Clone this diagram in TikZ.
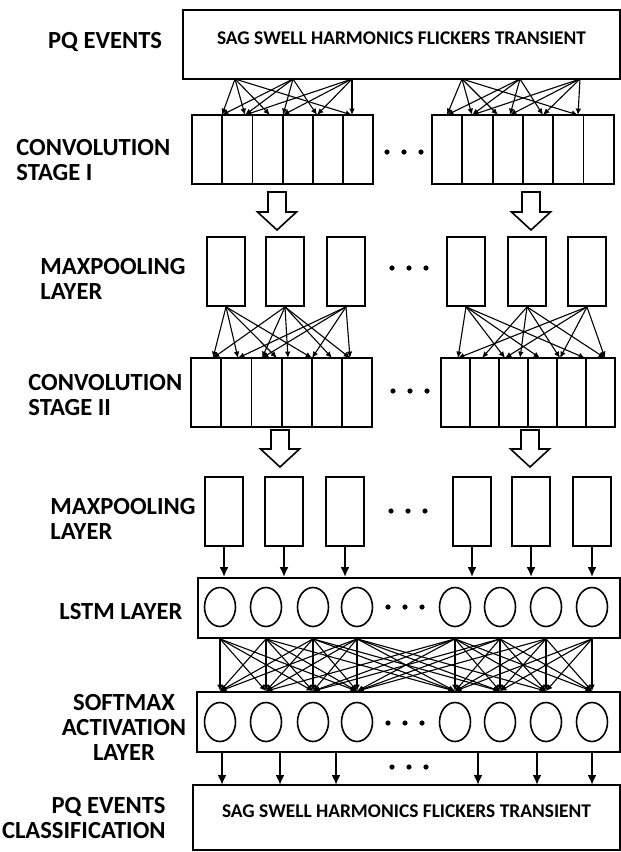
\documentclass[tikz,border=0pt]{standalone}
\usepackage{fontspec}
\setmainfont{Carlito}
\usetikzlibrary{arrows.meta,fit,shapes.geometric}

% hollow block arrow: x, top y, tip y
\newcommand\hollowarrow[3]{%
  \draw[hollow] (#1-9,#2) -- (#1+9,#2) -- (#1+9,#3-18) -- (#1+19.5,#3-18)
    -- (#1,#3) -- (#1-19.5,#3-18) -- (#1-9,#3-18) -- cycle;}

\begin{document}
\begin{tikzpicture}[x=0.5pt,y=-0.5pt,
    lab/.style={font=\bfseries\fontsize{12.3}{12.5}\selectfont, inner sep=0pt},
    boxtext/.style={font=\bfseries\fontsize{9.7}{11}\selectfont},
    frame/.style={draw, line width=0.9pt, inner sep=0pt},
    cell/.style={draw, line width=0.9pt, inner sep=0pt},
    unit/.style={ellipse, draw, line width=0.8pt, minimum width=15.5pt, minimum height=19.5pt, inner sep=0pt},
    dot/.style={circle, fill, inner sep=0pt, minimum size=2.6pt},
    fan/.style={-{Latex[length=3.2pt,width=2.8pt]}, line width=0.55pt},
    down/.style={-{Latex[length=5pt,width=4.5pt]}, line width=1pt},
    hollow/.style={draw, line width=0.8pt, fill=white}
  ]
    \useasboundingbox (0,0) rectangle (621,852);

    % layer names
    \node[lab] (pqinlab) at (105,42) {PQ EVENTS};
    \node[lab, anchor=west, align=left] (conv1lab) at (16,160) {CONVOLUTION\\STAGE I};
    \node[lab, anchor=west, align=left] (pool1lab) at (40,279) {MAXPOOLING\\LAYER};
    \node[lab, anchor=west, align=left] (conv2lab) at (28,395) {CONVOLUTION\\STAGE II};
    \node[lab, anchor=west, align=left] (pool2lab) at (50,519) {MAXPOOLING\\LAYER};
    \node[lab, anchor=west] (lstmlab) at (59,612) {LSTM LAYER};
    \node[lab, align=center] (softlab) at (124,727) {SOFTMAX\\ACTIVATION\\LAYER};
    \node[lab, anchor=east, align=right] (pqoutlab) at (166,818) {PQ EVENTS\\CLASSIFICATION};

    % input and output boxes
    \node[frame, boxtext, fit={(183,10) (620,79)}] (events) {SAG SWELL HARMONICS FLICKERS TRANSIENT};
    \node[frame, boxtext, fit={(193,785) (620,850)}] (result) {SAG SWELL HARMONICS FLICKERS TRANSIENT};

    % convolution cells
    \foreach \n/\g/\xa/\ya/\w in {1/a/192/115/30.2, 1/b/432/115/30.3, 2/a/191/358/30.2, 2/b/441/358/29}
      \foreach \i in {1,...,6}
        \node[cell, fit={(\xa+\w*\i-\w,\ya) (\xa+\w*\i,\ya+69)}] (c\n\g\i) {};

    % maxpooling boxes
    \foreach \nm/\xa/\ya in {m1a1/207/237, m1a2/266/237, m1a3/327/237,
                              m1b1/447/237, m1b2/508/237, m1b3/568/237,
                              m2a1/205/477, m2a2/265/477, m2a3/326/477,
                              m2b1/453/477, m2b2/512/477, m2b3/573/477}
      \node[cell, fit={(\xa,\ya) (\xa+38,\ya+69)}] (\nm) {};

    % lstm and softmax rows
    \node[frame, fit={(198,578) (620,638)}] (lstm) {};
    \node[frame, fit={(197,692) (620,752)}] (soft) {};
    \foreach \i/\x in {1/220, 2/266, 3/313, 4/357, 5/455, 6/500, 7/546, 8/592} {
      \node[unit] (l\i) at (\x,607) {};
      \node[unit] (s\i) at (\x,722) {};
    }

    % dots
    \foreach \nm/\x/\y in {da/404/152, db/409/268, dc/410/391, dd/408/511, de/405/607, df/405/723, dg/409/767}
      \foreach \k in {1,2,3}
        \node[dot] (\nm\k) at (\x+17*\k-34,\y) {};

    % block arrows
    \hollowarrow{277}{192}{230}
    \hollowarrow{531}{192}{230}
    \hollowarrow{280}{430}{467}
    \hollowarrow{530}{430}{467}

    % fan-out points
    \foreach \nm/\x in {pa1/235, pa2/293, pa3/352, pb1/462, pb2/520, pb3/580}
      \coordinate (\nm) at (\x,79);
    \foreach \nm/\x in {qa1/222, qa2/245, qa3/270, qa4/283, qa5/317, qa6/352,
                        qb1/447, qb2/472, qb3/498, qb4/510, qb5/543, qb6/578}
      \coordinate (\nm) at (\x,115);
    \foreach \nm/\x in {ta1/213, ta2/238, ta3/262, ta4/277, ta5/288, ta6/312, ta7/332, ta8/350,
                        tb1/458, tb2/482, tb3/505, tb4/520, tb5/540, tb6/560, tb7/585, tb8/605}
      \coordinate (\nm) at (\x,358);

    % input -> convolution I
    \foreach \g in {a,b}
      \foreach \s/\t in {1/1, 1/2, 1/3, 1/6, 2/1, 2/2, 2/4, 2/5, 3/2, 3/4, 3/5, 3/6}
        \draw[fan] (p\g\s) -- (q\g\t);

    % maxpooling I -> convolution II
    \foreach \s/\t in {1/1, 1/2, 1/4, 1/6, 2/1, 2/3, 2/5, 2/7, 2/8, 3/2, 3/3, 3/6, 3/8}
      \draw[fan] (m1a\s.south) -- (ta\t);
    \foreach \s/\t in {1/1, 1/3, 1/5, 1/7, 2/2, 2/4, 2/6, 2/8, 3/1, 3/3, 3/6, 3/8}
      \draw[fan] (m1b\s.south) -- (tb\t);

    % maxpooling II -> lstm
    \foreach \g in {a,b}
      \foreach \i in {1,2,3}
        \draw[down] (m2\g\i.south) -- (m2\g\i.south |- lstm.north);

    % lstm -> softmax
    \foreach \i in {1,...,8}
      \foreach \j in {1,...,8} {
        \pgfmathtruncatemacro\gap{abs(\i-\j)}
        \ifnum\gap<4 \draw[fan] (l\i |- lstm.south) -- (s\j |- soft.north); \fi
      }

    % softmax -> output
    \foreach \i/\x in {1/222, 2/280, 3/336, 4/478, 5/537, 6/592}
      \coordinate (o\i) at (\x,785);
    \foreach \i in {1,...,6}
      \draw[down] (o\i |- soft.south) -- (o\i);
\end{tikzpicture}
\end{document}
